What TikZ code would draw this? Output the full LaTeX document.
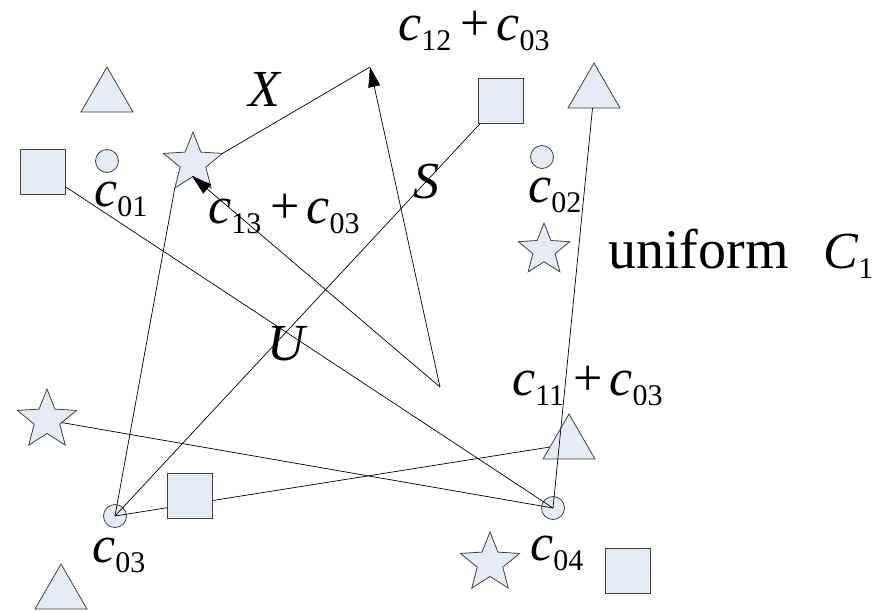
\documentclass[tikz,border=0pt]{standalone}
\usepackage{fontspec}
\setmainfont{Liberation Serif}
\usetikzlibrary{shapes.geometric,arrows.meta}
\definecolor{fillc}{HTML}{E6ECF6}
\newcommand{\csub}[2]{\textit{#1}\raisebox{-10pt}{\fontsize{30}{30}\selectfont #2}}
\newcommand{\plusc}{\hspace{9pt}+\hspace{7pt}}
\begin{document}
\begin{tikzpicture}[x=1pt,y=-1pt,
  shp/.style={draw=black!75, fill=fillc, line width=0.8pt, inner sep=0pt, outer sep=0pt},
  sqr/.style={shp, rectangle, minimum size=45pt},
  cir/.style={shp, circle, minimum size=23pt},
  tri/.style={shp, regular polygon, regular polygon sides=3, minimum size=60pt},
  sta/.style={shp, star, star points=5, star point ratio=2.3, minimum size=62pt},
  ln/.style={line width=0.7pt},
  arr/.style={ln, -{Triangle[length=20pt,width=12pt]}},
  lbl/.style={anchor=base west, inner sep=0pt, font=\fontsize{52}{52}\selectfont}]
\path[use as bounding box] (0,0) rectangle (874,611);

% shapes
\node[tri] (t1) at (107,97) {};
\node[sqr] (sq1) at (43,172) {};
\node[cir] (ci1) at (107,161) {};
\node[sta] (st1) at (193,163) {};
\node[sqr] (sq2) at (501,101) {};
\node[tri] (t2) at (594,93) {};
\node[cir] (ci2) at (542,157) {};
\node[sta, minimum size=54pt] (st2) at (544,250) {};
\node[tri] (t3) at (569,444) {};
\node[cir] (ci4) at (553,508) {};
\node[sta] (st3) at (490,563) {};
\node[sqr] (sq4) at (628,571) {};
\node[sta] (st4) at (47,420) {};
\node[cir] (ci3) at (115,516) {};
\node[tri] (t4) at (61,594) {};

% helper points
\coordinate (v) at (440,387);
\coordinate (tp) at (370,67);
\coordinate (stt) at (192,176);

% connectors
\draw[ln] (sq1) -- (ci4.center);
\draw[ln] (st4) -- (ci4.center);
\draw[ln] (ci3.center) -- (st1.outer point 3);
\draw[ln] (ci3.center) -- (sq2);
\draw[ln] (ci3.center) -- (t3);
\draw[ln] (ci4.center) -- (t2);
\draw[ln] (tp) -- (st1.outer point 5);
\draw[arr] (v) -- (tp);
\draw[arr] (v) -- (stt);

\node[sqr] (sq3) at (190,496) {};

% labels
\node[lbl] (l12) at (398,40) {\csub{c}{12}\plusc\csub{c}{03}};
\node[lbl] (lx) at (248,106) {\textit{X}};
\node[lbl] (l01) at (94,206) {\csub{c}{01}};
\node[lbl] (l13) at (208,223) {\csub{c}{13}\plusc\csub{c}{03}};
\node[lbl] (ls) at (413,198) {\textit{S}};
\node[lbl] (l02) at (528,202) {\csub{c}{02}};
\node[lbl, font=\fontsize{56}{56}\selectfont] (lu) at (608,268) {uniform};
\node[lbl] (lc1) at (823,268) {\csub{C}{1}};
\node[lbl] (lU) at (267,360) {\textit{U}};
\node[lbl] (l11) at (512,395) {\csub{c}{11}\plusc\csub{c}{03}};
\node[lbl] (l03) at (92,562) {\csub{c}{03}};
\node[lbl] (l04) at (530,560) {\csub{c}{04}};
\end{tikzpicture}
\end{document}
